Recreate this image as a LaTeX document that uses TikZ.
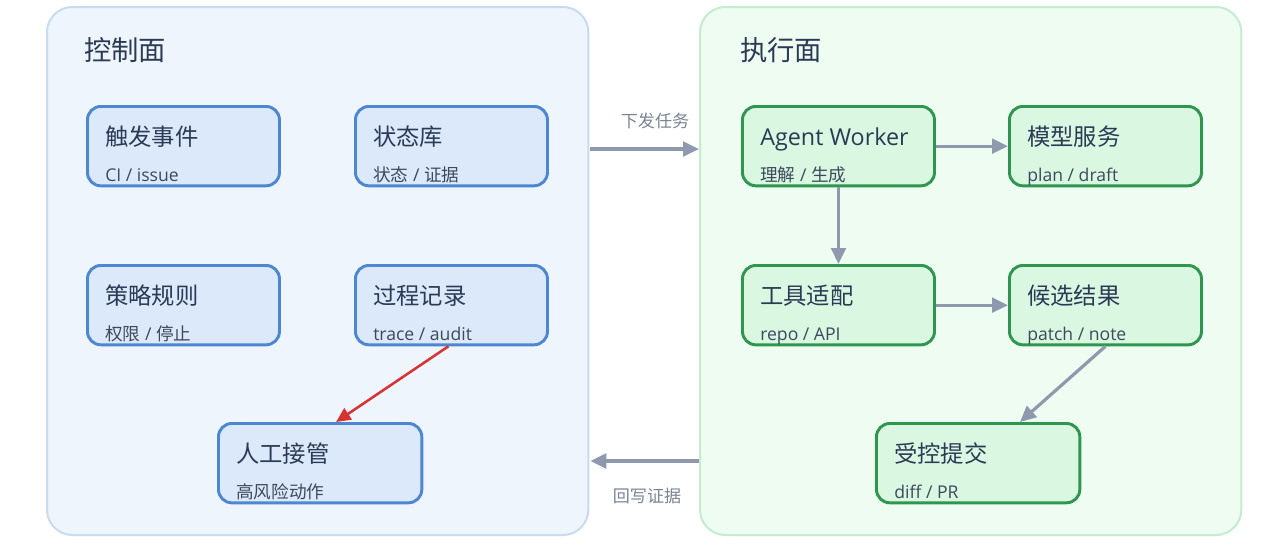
\documentclass[tikz,border=0pt]{standalone}
\usepackage{fontspec}
\setmainfont{Open Sans}
\newfontfamily\cjk{Noto Sans CJK SC}
\usetikzlibrary{arrows.meta,calc}
\definecolor{cpfill}{HTML}{EEF5FD}
\definecolor{cpline}{HTML}{C8DBF0}
\definecolor{epfill}{HTML}{EEFCF1}
\definecolor{epline}{HTML}{C4EDD0}
\definecolor{bfill}{HTML}{DCE9FB}
\definecolor{bline}{HTML}{4D86D1}
\definecolor{gfill}{HTML}{DAF7E2}
\definecolor{gline}{HTML}{2F9650}
\definecolor{ttext}{HTML}{2B3A55}
\definecolor{stext}{HTML}{3D4A5C}
\definecolor{garr}{HTML}{8F99AE}
\definecolor{ltext}{HTML}{7B8493}
\definecolor{rarr}{HTML}{D63333}
\tikzset{
  panel/.style={draw, line width=1.5pt, rounded corners=19pt, inner sep=0pt, anchor=north west, minimum width=406pt, minimum height=396pt},
  bbox/.style={draw=bline, fill=bfill, line width=2.2pt, rounded corners=10pt, inner sep=0pt, anchor=north west, minimum width=144pt, minimum height=59.5pt},
  gbox/.style={draw=gline, fill=gfill, line width=2.2pt, rounded corners=10pt, inner sep=0pt, anchor=north west, minimum width=144pt, minimum height=59.5pt},
  wide/.style={minimum width=152.5pt},
  ptitle/.style={anchor=base west, inner sep=0pt, text=ttext, font=\cjk\fontsize{20.5}{24}\selectfont},
  btitle/.style={anchor=base west, inner sep=0pt, text=ttext, font=\fontsize{17.5}{21}\selectfont},
  bsub/.style={anchor=base west, inner sep=0pt, text=stext, font=\fontsize{13.2}{16}\selectfont},
  alabel/.style={anchor=base, inner sep=0pt, text=ltext, font=\cjk\fontsize{12.8}{15}\selectfont},
  garrow/.style={draw=garr, line width=2.4pt, -{Triangle[length=12pt,width=11pt]}},
  rarrow/.style={draw=rarr, line width=1.9pt, -{Triangle[length=11pt,width=10pt]}},
}
\newcommand{\boxtext}[3]{%
  \node[btitle] (#1t) at ($(#1.north west)+(19,40)$) {#2};
  \node[bsub] (#1s) at ($(#1.north west)+(19,76)$) {#3};
}
\begin{document}
\begin{tikzpicture}[x=0.75pt,y=-0.75pt]
\useasboundingbox[fill=white] (0,0) rectangle (1280,544);
% panels
\node[panel, draw=cpline, fill=cpfill] (cp) at (46,6) {};
\node[panel, draw=epline, fill=epfill] (ep) at (699,6) {};
\node[ptitle] (cpt) at (84,60) {控制面};
\node[ptitle] (ept) at (740,60) {执行面};
% left boxes
\node[bbox] (trig) at (86,105) {};
\node[bbox] (state) at (354,105) {};
\node[bbox] (policy) at (86,264) {};
\node[bbox] (trace) at (354,264) {};
\node[bbox, wide] (human) at (217,422) {};
\boxtext{trig}{{\cjk 触发事件}}{CI / issue}
\boxtext{state}{{\cjk 状态库}}{{\cjk 状态} / {\cjk 证据}}
\boxtext{policy}{{\cjk 策略规则}}{{\cjk 权限} / {\cjk 停止}}
\boxtext{trace}{{\cjk 过程记录}}{trace / audit}
\boxtext{human}{{\cjk 人工接管}}{{\cjk 高风险动作}}
% right boxes
\node[gbox] (aw) at (741,105) {};
\node[gbox] (model) at (1008,105) {};
\node[gbox] (tool) at (741,264) {};
\node[gbox] (cand) at (1008,264) {};
\node[gbox, wide] (submit) at (875,422) {};
\boxtext{aw}{Agent Worker}{{\cjk 理解} / {\cjk 生成}}
\boxtext{model}{{\cjk 模型服务}}{plan / draft}
\boxtext{tool}{{\cjk 工具适配}}{repo / API}
\boxtext{cand}{{\cjk 候选结果}}{patch / note}
\boxtext{submit}{{\cjk 受控提交}}{diff / PR}
% cross-panel arrows
\draw[garrow] ($(cp.north east)+(1,143)$) -- ($(ep.north west)+(0,143)$);
\node[alabel] (l1) at (655,127) {下发任务};
\draw[garrow] ($(ep.north west)+(0,455)$) -- ($(cp.north east)+(1,455)$);
\node[alabel] (l2) at (647,502) {回写证据};
% inner arrows
\draw[garrow] (aw.east) -- (model.west);
\draw[garrow] (aw.south) -- (tool.north);
\draw[garrow] (tool.east) -- (cand.west);
\draw[garrow] (cand.south) -- ($(submit.north west)+(145,0)$);
\draw[rarrow] ($(trace.south)+(-3,0)$) -- ($(human.north west)+(119,0)$);
\end{tikzpicture}
\end{document}
